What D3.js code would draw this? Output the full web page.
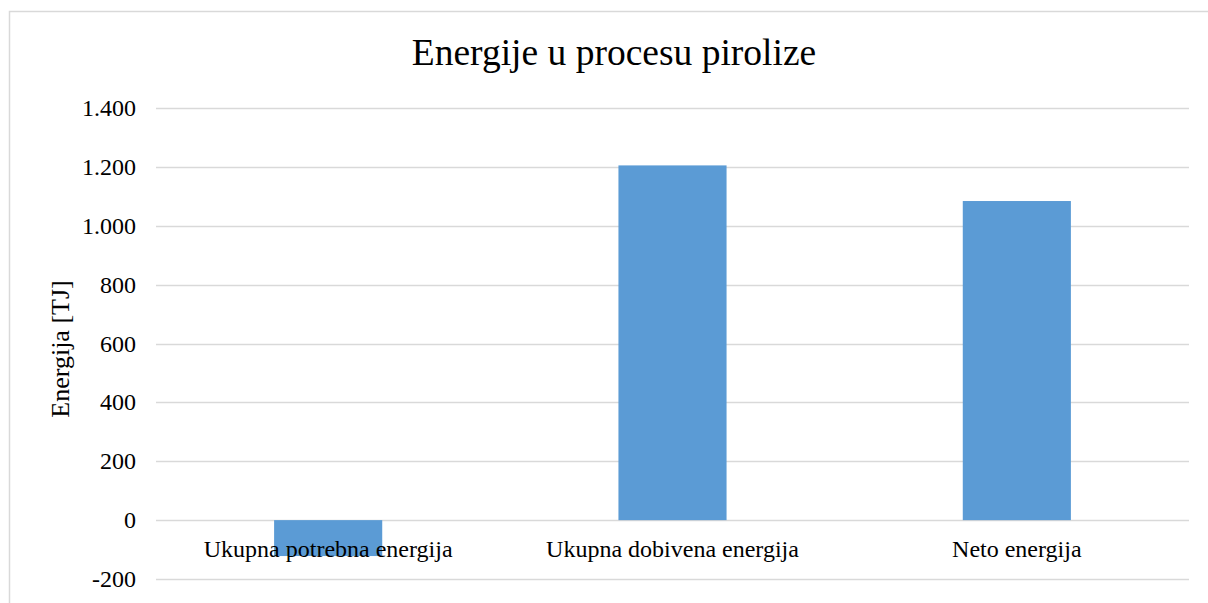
<!DOCTYPE html>
<html><head><meta charset="utf-8">
<script src="https://cdn.jsdelivr.net/npm/d3@7"></script>
<style>body{margin:0;background:#fff}svg{display:block}</style>
</head><body>
<svg id="c" width="1208" height="603"></svg>
<script>
const categories = ["Ukupna potrebna energija", "Ukupna dobivena energija", "Neto energija"];
const values = [-122, 1205, 1084];
const yTicks = [-200, 0, 200, 400, 600, 800, 1000, 1200, 1400];
const title = "Energije u procesu pirolize";
const yLabel = "Energija [TJ]";

const svg = d3.select("#c");
const font = "'Liberation Serif', 'Times New Roman', serif";
svg.append("rect").attr("x", 9.5).attr("y", 11.5).attr("width", 1220).attr("height", 620)
  .attr("fill", "#fff").attr("stroke", "#d9d9d9").attr("stroke-width", 1.5);

const left = 156, right = 1189;
const y = d3.scaleLinear().domain([-200, 1400]).range([579, 108]);
const x = d3.scaleBand().domain(categories).range([left, right]).padding(0);
const barW = x.bandwidth() * 0.314;

svg.append("g").selectAll("line").data(yTicks).join("line")
  .attr("x1", left).attr("x2", right)
  .attr("y1", d => Math.round(y(d)) + 0.5).attr("y2", d => Math.round(y(d)) + 0.5)
  .attr("stroke", "#d9d9d9").attr("stroke-width", 1.3);

const fmt = d => d3.format(",")(d).replace(/,/g, ".").replace("−", "-");
svg.append("g").selectAll("text").data(yTicks).join("text")
  .attr("x", 136).attr("y", d => y(d) + 8)
  .attr("text-anchor", "end").attr("font-family", font).attr("font-size", 24).attr("fill", "#000")
  .text(fmt);

svg.append("g").selectAll("rect").data(values).join("rect")
  .attr("x", (d, i) => x(categories[i]) + x.bandwidth() / 2 - barW / 2)
  .attr("width", barW)
  .attr("y", d => y(Math.max(0, d)))
  .attr("height", d => Math.abs(y(d) - y(0)))
  .attr("fill", "#5b9bd5");

svg.append("g").selectAll("text").data(categories).join("text")
  .attr("x", d => x(d) + x.bandwidth() / 2).attr("y", 557)
  .attr("text-anchor", "middle").attr("font-family", font).attr("font-size", 24).attr("fill", "#000")
  .text(d => d);

svg.append("text").attr("x", 614).attr("y", 65).attr("text-anchor", "middle")
  .attr("font-family", font).attr("font-size", 37.5).attr("fill", "#000").text(title);

svg.append("text").attr("transform", "translate(69,349) rotate(-90)").attr("text-anchor", "middle")
  .attr("font-family", font).attr("font-size", 26).attr("fill", "#000").text(yLabel);
</script>
</body></html>
